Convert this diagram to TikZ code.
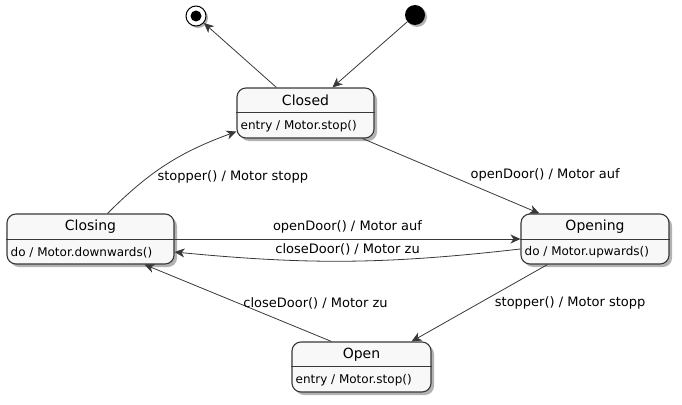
\documentclass[tikz,border=0pt]{standalone}
\usepackage{fontspec}
\setmainfont{DejaVu Sans}
\usepackage{tikz}
\usetikzlibrary{arrows.meta,calc,positioning,shadows}
\definecolor{linec}{HTML}{383838}
\definecolor{statefill}{HTML}{F8F8F8}

\begin{document}
\begin{tikzpicture}[
  x=1pt, y=-1pt,
  state/.style={draw=linec, fill=statefill, line width=1.1pt, rounded corners=9pt,
                minimum height=50pt, inner sep=0pt,
                drop shadow={shadow xshift=3pt, shadow yshift=-3pt, opacity=.3, fill=black}},
  title/.style={font=\fontsize{14}{16}\selectfont, inner sep=0pt},
  desc/.style={font=\fontsize{12}{14}\selectfont, inner sep=0pt, anchor=west},
  divider/.style={draw=linec, line width=1pt},
  lbl/.style={font=\fontsize{13}{15}\selectfont, inner sep=0pt, text=black},
  arr/.style={-{Stealth[length=10pt, width=9pt, inset=3pt]}, draw=linec, line width=0.8pt}]
\useasboundingbox (0,0) rectangle (682,404);
% start and end
\node[circle, fill=black, minimum size=20pt, inner sep=0pt,
      drop shadow={shadow xshift=2pt, shadow yshift=-2pt, opacity=.3, fill=black}] (initial) at (415,15) {};
\node[circle, draw=black, line width=1pt, fill=white, minimum size=20pt, inner sep=0pt,
      drop shadow={shadow xshift=2pt, shadow yshift=-2pt, opacity=.3, fill=black}] (final) at (196,16) {};
\node[circle, fill=black, minimum size=11pt, inner sep=0pt] (finaldot) at (final) {};
% states
\node[state, minimum width=137pt] (closed) at (305.5,113) {};
\node[title] (closedname) at ([yshift=-13pt]closed.north) {Closed};
\draw[divider] ([yshift=-25pt]closed.north west) -- ([yshift=-25pt]closed.north east);
\node[desc] (closeddo) at ([xshift=4pt, yshift=12.5pt]closed.south west) {entry / Motor.stop()};

\node[state, minimum width=167pt] (closing) at (90.5,239) {};
\node[title] (closingname) at ([yshift=-13pt]closing.north) {Closing};
\draw[divider] ([yshift=-26pt]closing.north west) -- ([yshift=-26pt]closing.north east);
\node[desc] (closingdo) at ([xshift=4pt, yshift=12pt]closing.south west) {do / Motor.downwards()};

\node[state, minimum width=148pt] (opening) at (595,239) {};
\node[title] (openingname) at ([yshift=-13pt]opening.north) {Opening};
\draw[divider] ([yshift=-26pt]opening.north west) -- ([yshift=-26pt]opening.north east);
\node[desc] (openingdo) at ([xshift=4pt, yshift=12pt]opening.south west) {do / Motor.upwards()};

\node[state, minimum width=139pt] (open) at (361.5,367) {};
\node[title] (openname) at ([yshift=-13pt]open.north) {Open};
\draw[divider] ([yshift=-25pt]open.north west) -- ([yshift=-25pt]open.north east);
\node[desc] (opendo) at ([xshift=4pt, yshift=12.5pt]open.south west) {entry / Motor.stop()};
% transitions
\draw[arr] ([xshift=40pt]closed.north west) -- (final);
\draw[arr] (initial) -- ([xshift=96pt]closed.north west);
\draw[arr] ([xshift=-12pt]closed.south east) -- ([xshift=19pt]opening.north west)
  node[lbl, pos=.49, anchor=west, xshift=21pt] {openDoor() / Motor auf};
\draw[arr] ([xshift=17pt]closing.north) to[out=45, in=200]
  node[lbl, pos=.35, anchor=west, xshift=8pt] {stopper() / Motor stopp}
  ([yshift=7pt]closed.south west);
\draw[arr] (closing.east) -- (closing.east -| opening.west)
  node[lbl, midway, above=5pt] {openDoor() / Motor auf};
\draw[arr] ([yshift=-10pt]opening.west) to[bend left=6]
  node[lbl, midway, above=6pt] {closeDoor() / Motor zu}
  ([yshift=-13pt]closing.east);
\draw[arr] ([xshift=27pt]opening.south west) -- ([xshift=-20pt]open.north east)
  node[lbl, midway, anchor=west, xshift=15pt] {stopper() / Motor stopp};
\draw[arr] ([xshift=40pt]open.north west) -- ([xshift=138pt]closing.south west)
  node[lbl, midway, anchor=west, xshift=5pt] {closeDoor() / Motor zu};
\end{tikzpicture}
\end{document}
